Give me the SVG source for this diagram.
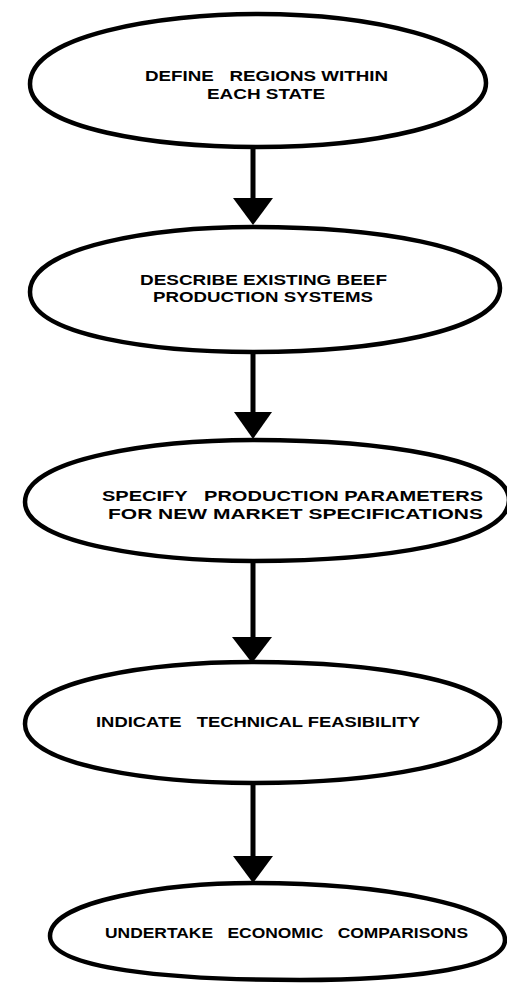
<svg xmlns="http://www.w3.org/2000/svg" width="507" height="983" viewBox="0 0 507 983">
  <style>
    .shape { fill: #ffffff; stroke: #000000; stroke-width: 4.5; stroke-linejoin: round; }
    .label { font-family: "Liberation Sans", Arial, Helvetica, sans-serif; font-weight: bold; font-size: 15.5px; fill: #000000; white-space: pre; }
    .shaft { stroke: #000000; stroke-width: 5; fill: none; }
    .head { fill: #000000; stroke: none; }
  </style>
  <rect width="507" height="983" fill="#ffffff"/>

  <!-- flowchart steps -->
  <g id="step-define-regions">
    <path class="shape" d="M30,84 C30,35 160,14 258,14 C370,14 486,40 486,83 C486,125 370,147 258,147 C160,147 30,130 30,84 Z"/>
    <text class="label" x="145" y="81" textLength="243" lengthAdjust="spacingAndGlyphs">DEFINE   REGIONS WITHIN</text>
    <text class="label" x="207" y="98.5" textLength="118" lengthAdjust="spacingAndGlyphs">EACH STATE</text>
  </g>

  <g id="step-describe-systems">
    <path class="shape" d="M30,292 C30,245 160,227 253,227 C370,227 500,245 500,288 C500,332 370,352 253,352 C160,352 30,337 30,292 Z"/>
    <text class="label" x="140" y="284.5" textLength="247" lengthAdjust="spacingAndGlyphs">DESCRIBE EXISTING BEEF</text>
    <text class="label" x="153" y="302" textLength="220" lengthAdjust="spacingAndGlyphs">PRODUCTION SYSTEMS</text>
  </g>

  <g id="step-specify-parameters">
    <path class="shape" d="M25,502 C25,457 160,440 253,440 C380,440 509,458 509,500 C509,543 380,561 253,561 C160,561 25,545 25,502 Z"/>
    <text class="label" x="102" y="501" textLength="381" lengthAdjust="spacingAndGlyphs">SPECIFY   PRODUCTION PARAMETERS</text>
    <text class="label" x="108" y="518.5" textLength="375" lengthAdjust="spacingAndGlyphs">FOR NEW MARKET SPECIFICATIONS</text>
  </g>

  <g id="step-indicate-feasibility">
    <path class="shape" d="M25,724 C25,678 160,662 252,662 C370,662 500,680 500,722 C500,765 370,783 253,783 C160,783 25,767 25,724 Z"/>
    <text class="label" x="96" y="727" textLength="324" lengthAdjust="spacingAndGlyphs">INDICATE   TECHNICAL FEASIBILITY</text>
  </g>

  <g id="step-economic-comparisons">
    <path class="shape" d="M50,936 C50,900 170,883 253,883 C380,883 505,905 505,940 C505,970 400,980 300,980 C170,980 50,969 50,936 Z"/>
    <text class="label" x="105" y="938" textLength="363" lengthAdjust="spacingAndGlyphs">UNDERTAKE   ECONOMIC   COMPARISONS</text>
  </g>

  <!-- connectors -->
  <g id="connectors">
    <line class="shaft" x1="253" y1="147" x2="253" y2="200"/>
    <polygon class="head" points="233,198 273,198 253,225"/>
    <line class="shaft" x1="253" y1="352" x2="253" y2="414"/>
    <polygon class="head" points="234,412 272,412 253,439"/>
    <line class="shaft" x1="253" y1="561" x2="253" y2="639"/>
    <polygon class="head" points="232,637 272,637 252,663"/>
    <line class="shaft" x1="253" y1="783" x2="253" y2="858"/>
    <polygon class="head" points="233,856 273,856 253,883"/>
  </g>
</svg>
